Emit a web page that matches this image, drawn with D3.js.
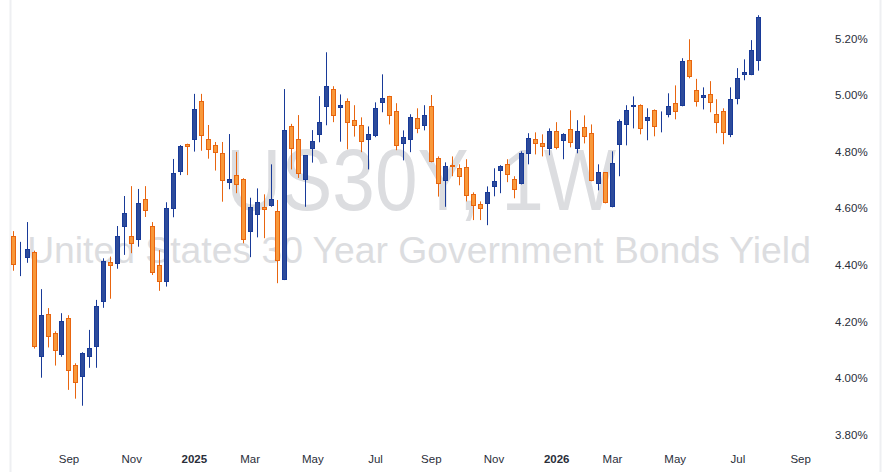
<!DOCTYPE html>
<html>
<head>
<meta charset="utf-8">
<script src="https://cdn.jsdelivr.net/npm/d3@7"></script>
<style>
  html, body { margin: 0; padding: 0; background: #ffffff; }
  svg { display: block; }
</style>
</head>
<body>
<svg id="chart" width="891" height="472"></svg>
<script>
// ---------------- DATA ----------------
const firstWeek = "2024-07-08"; // first weekly bar (Monday)
const opens = [4.502,4.450,4.422,4.445,4.073,4.225,4.158,4.079,4.212,4.045,
  4.002,4.073,4.108,4.267,4.409,4.402,4.533,4.502,4.485,4.633,
  4.537,4.399,4.340,4.596,4.727,4.826,4.840,4.978,4.843,4.822,
  4.794,4.688,4.716,4.702,4.515,4.578,4.603,4.605,4.589,4.346,
  4.889,4.843,4.700,4.808,4.858,4.957,5.020,4.953,4.978,4.911,
  4.893,4.840,4.854,4.971,4.995,4.942,4.826,4.840,4.918,4.889,
  4.961,4.776,4.695,4.752,4.741,4.745,4.649,4.614,4.614,4.674,
  4.730,4.755,4.702,4.684,4.790,4.843,4.829,4.808,4.872,4.836,
  4.879,4.808,4.886,4.865,4.684,4.727,4.603,4.822,4.893,4.957,
  4.964,4.907,4.946,4.911,4.928,4.971,4.960,5.123,5.018,4.988,
  5.002,4.932,4.942,4.858,4.985,5.070,5.070,5.119];
const highs = [4.519,4.481,4.551,4.450,4.314,4.247,4.165,4.229,4.222,4.052,
  4.091,4.170,4.276,4.423,4.429,4.537,4.643,4.678,4.668,4.678,
  4.551,4.452,4.621,4.774,4.823,4.828,5.004,5.004,4.894,4.834,
  4.834,4.862,4.799,4.706,4.637,4.670,4.649,4.755,4.629,5.021,
  4.898,4.929,4.787,4.876,4.996,5.151,5.031,5.002,4.988,4.964,
  4.921,4.889,4.974,5.073,4.997,4.971,4.875,4.932,4.953,4.964,
  5.000,4.783,4.762,4.783,4.755,4.773,4.656,4.624,4.677,4.741,
  4.752,4.773,4.713,4.801,4.865,4.868,4.861,4.882,4.904,4.865,
  4.946,4.911,4.928,4.896,4.755,4.727,4.801,4.914,4.964,4.995,
  4.967,4.953,4.949,4.942,5.006,5.034,5.130,5.197,5.057,5.027,
  5.049,4.985,4.953,5.027,5.095,5.126,5.194,5.282];
const lows = [4.379,4.360,4.407,4.104,4.001,4.108,4.044,4.075,3.958,3.927,
  3.902,4.036,4.036,4.248,4.280,4.386,4.435,4.441,4.464,4.569,
  4.364,4.308,4.323,4.568,4.717,4.717,4.800,4.803,4.775,4.733,
  4.623,4.667,4.653,4.476,4.427,4.497,4.494,4.605,4.335,4.346,
  4.737,4.707,4.605,4.761,4.833,4.893,4.904,4.835,4.808,4.853,
  4.798,4.737,4.851,4.939,4.896,4.805,4.769,4.798,4.865,4.875,
  4.762,4.641,4.605,4.713,4.681,4.624,4.558,4.558,4.540,4.642,
  4.653,4.692,4.635,4.684,4.755,4.790,4.783,4.787,4.808,4.773,
  4.815,4.794,4.829,4.695,4.663,4.617,4.603,4.713,4.822,4.882,
  4.861,4.840,4.854,4.868,4.921,4.914,4.960,5.059,4.959,4.949,
  4.939,4.865,4.826,4.851,4.967,5.052,5.070,5.086];
const closes = [4.398,4.452,4.455,4.108,4.222,4.144,4.094,4.200,4.024,3.981,
  4.087,4.105,4.253,4.412,4.395,4.501,4.582,4.473,4.617,4.589,
  4.370,4.338,4.600,4.723,4.819,4.814,4.949,4.854,4.805,4.794,
  4.695,4.702,4.681,4.487,4.603,4.623,4.594,4.631,4.414,4.876,
  4.808,4.721,4.787,4.836,4.904,5.031,4.925,4.964,4.900,4.889,
  4.833,4.861,4.953,4.988,4.925,4.819,4.851,4.921,4.879,4.928,
  4.762,4.684,4.748,4.745,4.709,4.642,4.607,4.596,4.656,4.695,
  4.748,4.716,4.663,4.794,4.847,4.826,4.815,4.872,4.812,4.861,
  4.830,4.872,4.851,4.695,4.727,4.617,4.759,4.907,4.946,4.964,
  4.879,4.921,4.886,4.913,4.960,4.939,5.119,5.063,4.974,4.999,
  4.971,4.900,4.865,4.985,5.059,5.080,5.158,5.275];
const yTickValues = [3.8, 4.0, 4.2, 4.4, 4.6, 4.8, 5.0, 5.2];
const axisEndWeek = "2026-09-14"; // last week shown on the time axis
const watermarkTitle = "US30Y, 1W";
const watermarkSubtitle = "United States 30 Year Government Bonds Yield";

// ---------------- BUILD ----------------
const W = 891, H = 472;
const svg = d3.select("#chart");
const parse = d3.utcParse("%Y-%m-%d");
const start = parse(firstWeek);
const n = closes.length;
const bars = d3.range(n).map(i => ({
  date: d3.utcWeek.offset(start, i),
  o: opens[i], h: highs[i], l: lows[i], c: closes[i]
}));

const x = d3.scaleUtc()
  .domain([bars[0].date, bars[n - 1].date])
  .range([12.7, 758.3]);
const y = d3.scaleLinear()
  .domain([3.8, 5.2])
  .range([434.6, 38.4]);

// Watermark
const wm = svg.append("g").attr("fill", "#dcdde0")
  .attr("font-family", "'Liberation Sans', Arial, sans-serif");
const t1 = wm.append("text").attr("x", 421).attr("y", 210)
  .attr("text-anchor", "middle").attr("font-size", 88).text(watermarkTitle);
t1.attr("textLength", 390).attr("lengthAdjust", "spacingAndGlyphs");
const t2 = wm.append("text").attr("x", 419).attr("y", 263)
  .attr("text-anchor", "middle").attr("font-size", 39).text(watermarkSubtitle);
const w2 = t2.node().getComputedTextLength();
t2.attr("font-size", 39 * 784 / w2);

// Frame lines
svg.append("line").attr("x1", 10.5).attr("x2", 10.5).attr("y1", 0).attr("y2", H)
  .attr("stroke", "#eeeff2").attr("stroke-width", 2);
svg.append("line").attr("x1", 880.5).attr("x2", 880.5).attr("y1", 0).attr("y2", H)
  .attr("stroke", "#eeeff2").attr("stroke-width", 2);

// Candles
const upFill = "#2d4b9b", upStroke = "#183a98";
const dnFill = "#f8983a", dnStroke = "#e8650f";
const g = svg.append("g");
const candle = g.selectAll("g.candle").data(bars).join("g").attr("class", "candle");
candle.append("line")
  .attr("x1", d => Math.round(x(d.date)) + 0.5)
  .attr("x2", d => Math.round(x(d.date)) + 0.5)
  .attr("y1", d => y(d.h))
  .attr("y2", d => y(d.l))
  .attr("stroke", d => d.c >= d.o ? upStroke : dnStroke)
  .attr("stroke-width", 1);
candle.append("rect")
  .attr("x", d => Math.round(x(d.date)) - 2 + 0.5)
  .attr("width", 4)
  .attr("y", d => Math.round(y(Math.max(d.o, d.c))) + 0.5)
  .attr("height", d => Math.max(0, Math.round(Math.abs(y(d.o) - y(d.c))) - 1))
  .attr("fill", d => d.c >= d.o ? upFill : dnFill)
  .attr("stroke", d => d.c >= d.o ? upStroke : dnStroke)
  .attr("stroke-width", 1);

// Y axis (right)
const yAxis = d3.axisRight(y).tickValues(yTickValues)
  .tickFormat(d => d.toFixed(2) + "%").tickSize(0).tickPadding(0);
const yg = svg.append("g").attr("transform", "translate(835,0)").call(yAxis);
yg.select(".domain").remove();
yg.selectAll("text").attr("fill", "#2a2e39")
  .attr("font-family", "'Liberation Sans', Arial, sans-serif").attr("font-size", 11.5);

// X axis (bottom) - first bar of every other month, year at January
const allWeeks = d3.utcWeek.range(start, d3.utcDay.offset(parse(axisEndWeek), 1), 1)
  .map(d => d3.utcDay.offset(d, 1));
const tickDates = allWeeks.filter((d, i) => i > 0 &&
  d.getUTCMonth() !== allWeeks[i - 1].getUTCMonth() && d.getUTCMonth() % 2 === 0);
const xAxis = d3.axisBottom(x).tickValues(tickDates)
  .tickFormat(d => d.getUTCMonth() === 0 ? d3.utcFormat("%Y")(d) : d3.utcFormat("%b")(d))
  .tickSize(0).tickPadding(0);
const xg = svg.append("g").attr("transform", "translate(0,455)").call(xAxis);
xg.select(".domain").remove();
xg.selectAll("text")
  .attr("fill", "#2a2e39")
  .attr("font-family", "'Liberation Sans', Arial, sans-serif")
  .attr("font-size", 11.5)
  .attr("font-weight", d => d.getUTCMonth() === 0 ? "bold" : "normal");
</script>
</body>
</html>
